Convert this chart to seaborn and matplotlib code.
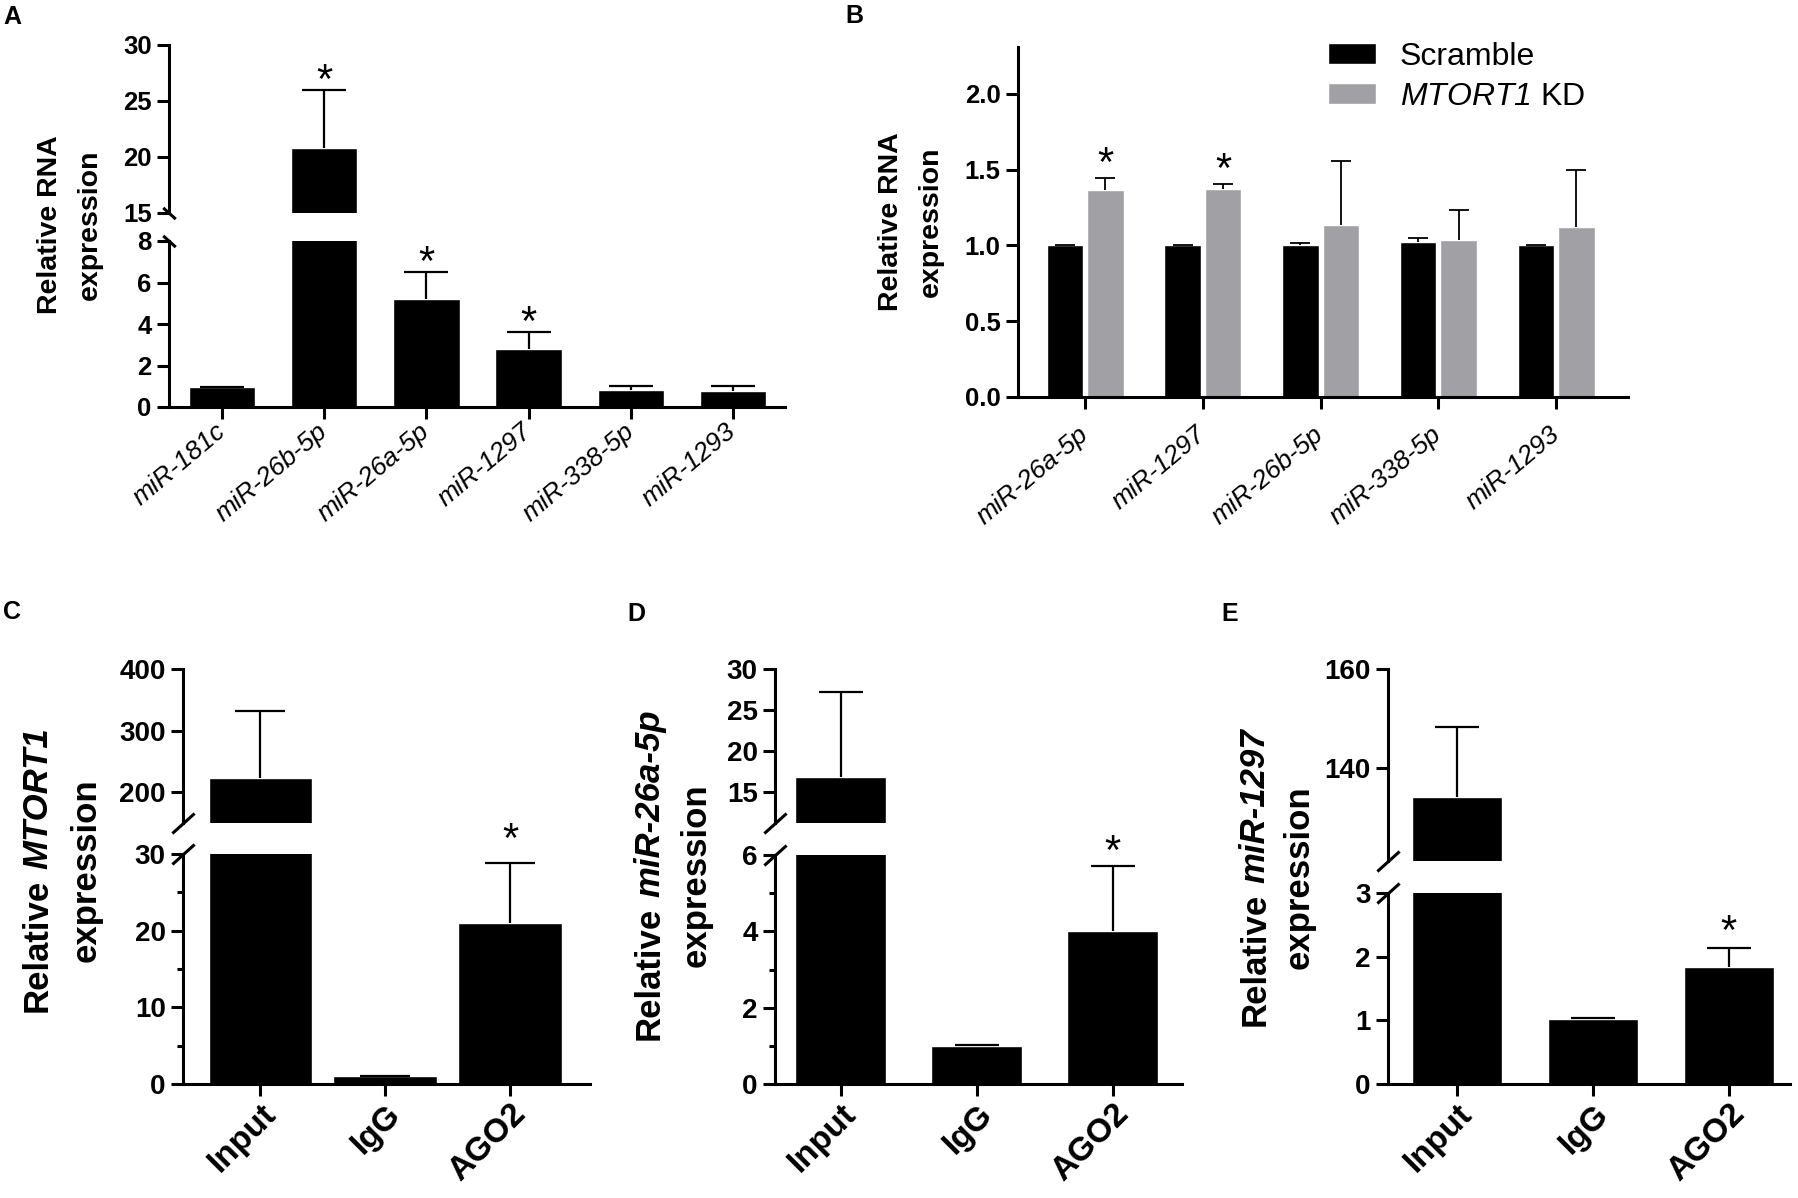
import numpy as np
import pandas as pd
import matplotlib
matplotlib.use("Agg")
import matplotlib.pyplot as plt
import seaborn as sns
from matplotlib.patches import Patch

# ---- data ----
A_MIRNA = ["miR-181c", "miR-26b-5p", "miR-26a-5p", "miR-1297", "miR-338-5p", "miR-1293"]
A_MEAN = [0.95, 20.8, 5.2, 2.8, 0.82, 0.75]
A_SD = [0.0, 5.2, 1.3, 0.8, 0.2, 0.28]
A_STAR = [1, 2, 3]

B_MIRNA = ["miR-26a-5p", "miR-1297", "miR-26b-5p", "miR-338-5p", "miR-1293"]
B_GROUPS = ["Scramble", "MTORT1 KD"]
B_SCR_MEAN = [1.0, 1.0, 1.005, 1.025, 1.0]
B_SCR_SD = [0.005, 0.005, 0.01, 0.025, 0.006]
B_KD_MEAN = [1.367, 1.376, 1.138, 1.036, 1.124]
B_KD_SD = [0.08, 0.033, 0.418, 0.2, 0.372]
B_STAR = [0, 1]

RIP = ["Input", "IgG", "AGO2"]
C_MEAN = [222.8, 1.0, 21.0]
C_SD = [109.0, 0.1, 7.8]
D_MEAN = [16.8, 1.0, 4.0]
D_SD = [10.4, 0.03, 1.7]
E_MEAN = [134.3, 1.02, 1.83]
E_SD = [14.0, 0.02, 0.3]
RIP_STAR = [2]

GRAY = "#a1a1a5"
W, H = 1799, 1198

sns.set_theme(style="ticks")
plt.rcParams["font.family"] = ["Liberation Sans", "DejaVu Sans"]
# mathtext is only used for the italic gene name in the legend
plt.rcParams["mathtext.fontset"] = "custom"
plt.rcParams["mathtext.it"] = "Liberation Sans:italic"
plt.rcParams["mathtext.rm"] = "Liberation Sans:italic"
plt.rcParams["axes.edgecolor"] = "black"
plt.rcParams["xtick.color"] = "black"
plt.rcParams["ytick.color"] = "black"
plt.rcParams["text.color"] = "black"

LW = 2.2
fig = plt.figure(figsize=(W / 100, H / 100), dpi=100)


def add_ax(left, right, top, bottom):
    return fig.add_axes([left / W, 1 - bottom / H, (right - left) / W, (bottom - top) / H])


def upper_errorbar(ax, xs, means, sds, capsize, elw):
    eb = ax.errorbar(xs, means, yerr=[np.zeros(len(sds)), sds], fmt="none",
                     ecolor="black", elinewidth=elw, capsize=capsize, capthick=elw)
    # drop the caps that sit on the bar tops (mean + SD only)
    for cl in eb[1]:
        if np.allclose(cl.get_ydata(), means):
            cl.remove()


def draw_bars(ax, cats, means, sds, width, capsize, elw=1.6):
    df = pd.DataFrame({"cat": cats, "val": means})
    sns.barplot(data=df, x="cat", y="val", color="black", saturation=1,
                width=width, errorbar=None, ax=ax)
    xs = [p.get_x() + p.get_width() / 2 for p in ax.patches]
    upper_errorbar(ax, xs, means, sds, capsize, elw)
    return xs


def style_y(ax, ylim, ticks, labels, fs, minor=None):
    sns.despine(ax=ax)
    ax.spines["left"].set_linewidth(LW)
    ax.spines["bottom"].set_linewidth(LW)
    ax.set_ylim(ylim)
    ax.set_yticks(ticks, labels=labels, fontsize=fs, fontweight="bold")
    if minor:
        ax.set_yticks(minor, minor=True)
        ax.tick_params(axis="y", which="minor", length=4.5, width=LW)
    ax.tick_params(axis="both", which="major", length=8.5, width=LW, pad=4)
    ax.set_xlabel("")
    ax.set_ylabel("")
    ax.set_facecolor("none")


def hide_bottom(ax):
    ax.spines["bottom"].set_visible(False)
    ax.tick_params(axis="x", bottom=False, labelbottom=False)


def break_mark(ax, y, slope, size):
    if slope == "/":
        m = [(-1, -0.9), (1, 0.9)]
    else:
        m = [(-1, 0.9), (1, -0.9)]
    ax.plot([0], [y], transform=ax.transAxes, marker=m, markersize=size,
            linestyle="none", color="black", mec="black", mew=LW, clip_on=False)


def star(ax, x, top, d):
    ax.annotate("*", xy=(x, top), xytext=(0, d - 24), textcoords="offset pixels",
                ha="center", va="baseline", fontsize=30, annotation_clip=False)


def ylabel_plain(cx, cy, text1, text2, fs, gap):
    kw = dict(rotation=90, ha="center", va="center", fontsize=fs, fontweight="bold")
    fig.text((cx - gap / 2) / W, 1 - cy / H, text1, **kw)
    fig.text((cx + gap / 2) / W, 1 - cy / H, text2, **kw)


def ylabel_italic(cx, cy, name, fs, gap):
    renderer = fig.canvas.get_renderer()
    kw = dict(fontsize=fs, fontweight="bold")
    t1 = fig.text(0, 0, "Relative", **kw)
    w1 = t1.get_window_extent(renderer).width
    t1.remove()
    t2 = fig.text(0, 0, name, fontstyle="italic", **kw)
    w2 = t2.get_window_extent(renderer).width
    t2.remove()
    space = 0.28 * fs * 100 / 72
    total = w1 + space + w2
    x1 = (cx - gap / 2) / W
    y0 = cy + total / 2
    fig.text(x1, 1 - y0 / H, "Relative", rotation=90, ha="center", va="bottom", **kw)
    fig.text(x1, 1 - (y0 - w1 - space) / H, name, rotation=90, ha="center",
             va="bottom", fontstyle="italic", **kw)
    fig.text((cx + gap / 2) / W, 1 - cy / H, "expression", rotation=90,
             ha="center", va="center", **kw)


def letter(x, y, s):
    fig.text(x / W, 1 - y / H, s, ha="left", va="top", fontsize=18, fontweight="bold")


def broken_panel(left, right, up_tb, lo_tb, means, sds, width, capsize, xlim,
                 up_lim, up_ticks, lo_lim, lo_ticks, lo_minor, slope, msize,
                 cats, xfs, xrot, xstyle, xweight, xva, xpad, yfs, star_idx, star_d):
    ax_u = add_ax(left, right, *up_tb)
    ax_l = add_ax(left, right, *lo_tb)
    xs = None
    for ax in (ax_u, ax_l):
        xs = draw_bars(ax, cats, means, sds, width, capsize)
        ax.set_xlim(xlim)
    style_y(ax_u, up_lim, up_ticks, [f"{t:g}" for t in up_ticks], yfs)
    style_y(ax_l, lo_lim, lo_ticks, [f"{t:g}" for t in lo_ticks], yfs, lo_minor)
    hide_bottom(ax_u)
    ax_l.set_xticks(range(len(cats)), labels=cats, rotation=xrot, ha="right",
                    va=xva, rotation_mode="anchor", fontsize=xfs,
                    fontstyle=xstyle, fontweight=xweight)
    ax_l.tick_params(axis="x", pad=xpad)
    break_mark(ax_u, 0, slope, msize)
    break_mark(ax_l, 1, slope, msize)
    for i in star_idx:
        top = means[i] + sds[i]
        ax = ax_u if top > up_lim[0] else ax_l
        star(ax, xs[i], top, star_d)
    return ax_u, ax_l


# ---- panel A ----
broken_panel(169, 785, (45, 213), (241, 407), A_MEAN, A_SD, 0.65, 16, (-0.52, 5.51),
             (15, 30), [15, 20, 25, 30], (0, 8), [0, 2, 4, 6, 8], None, "\\", 9,
             A_MIRNA, 19, 40, "italic", "normal", "center", 7, 18.5, A_STAR, 21)
letter(3, 5, "A")
ylabel_plain(70, 225, "Relative RNA", "expression", 20.5, 40)

# ---- panel B ----
ax_b = add_ax(1018, 1628, 47, 397)
df_b = pd.DataFrame({
    "mirna": B_MIRNA * 2,
    "group": [B_GROUPS[0]] * len(B_MIRNA) + [B_GROUPS[1]] * len(B_MIRNA),
    "value": B_SCR_MEAN + B_KD_MEAN,
})
sns.barplot(data=df_b, x="mirna", y="value", hue="group", hue_order=B_GROUPS,
            palette=["black", GRAY], saturation=1, width=0.685, gap=0.095,
            errorbar=None, legend=False, ax=ax_b)
black_x, gray_x = [], []
for p in ax_b.patches:
    xc = p.get_x() + p.get_width() / 2
    (black_x if p.get_facecolor()[0] < 0.2 else gray_x).append(xc)
black_x.sort()
gray_x.sort()
upper_errorbar(ax_b, black_x, B_SCR_MEAN, B_SCR_SD, 7.5, 1.3)
upper_errorbar(ax_b, gray_x, B_KD_MEAN, B_KD_SD, 7.5, 1.3)
ax_b.set_xlim(-0.57, 4.61)
b_ticks = [0, 0.5, 1.0, 1.5, 2.0]
style_y(ax_b, (0, 2.31), b_ticks, [f"{t:.1f}" for t in b_ticks], 18.5)
ax_b.set_xticks(range(len(B_MIRNA)), labels=B_MIRNA, rotation=40, ha="right",
                va="center", rotation_mode="anchor", fontsize=19, fontstyle="italic")
ax_b.tick_params(axis="x", pad=16)
for i in B_STAR:
    star(ax_b, gray_x[i], B_KD_MEAN[i] + B_KD_SD[i], 26)
ax_b.legend(handles=[Patch(facecolor="black", label="Scramble"),
                     Patch(facecolor=GRAY, label=r"$MTORT1$ KD")],
            loc="upper left", bbox_to_anchor=(1328 / W, 1 - 42 / H),
            bbox_transform=fig.transFigure, frameon=False, fontsize=23,
            handlelength=1.5, handleheight=0.62, handletextpad=0.75,
            labelspacing=0.3, borderpad=0, borderaxespad=0)
letter(845, 4, "B")
ylabel_plain(911, 222, "Relative RNA", "expression", 20.5, 40)

# ---- panel C ----
broken_panel(183, 590, (669, 823), (854, 1084), C_MEAN, C_SD, 0.83, 18, (-0.62, 2.64),
             (150, 400), [200, 300, 400], (0, 30), [0, 10, 20, 30], [5, 15, 25], "/", 16,
             RIP, 24, 45, "normal", "bold", "top", 2, 20, RIP_STAR, 35)
letter(3, 600, "C")
ylabel_italic(62, 870, "MTORT1", 25, 49)

# ---- panel D ----
broken_panel(775, 1182, (669, 823), (855, 1084), D_MEAN, D_SD, 0.67, 16, (-0.485, 2.51),
             (11.2, 30), [15, 20, 25, 30], (0, 6), [0, 2, 4, 6], [1, 3, 5], "/", 16,
             RIP, 24, 45, "normal", "bold", "top", 2, 20, RIP_STAR, 26)
letter(627, 602, "D")
ylabel_italic(673, 875, "miR-26a-5p", 25, 47)

# ---- panel E ----
broken_panel(1388, 1790, (669, 861), (893, 1084), E_MEAN, E_SD, 0.66, 16, (-0.507, 2.45),
             (121.3, 160), [140, 160], (0, 3), [0, 1, 2, 3], None, "/", 16,
             RIP, 24, 45, "normal", "bold", "top", 2, 20, RIP_STAR, 28)
letter(1221, 602, "E")
ylabel_italic(1277, 877, "miR-1297", 25, 44)

fig.savefig("out.png", dpi=100, facecolor="white")
